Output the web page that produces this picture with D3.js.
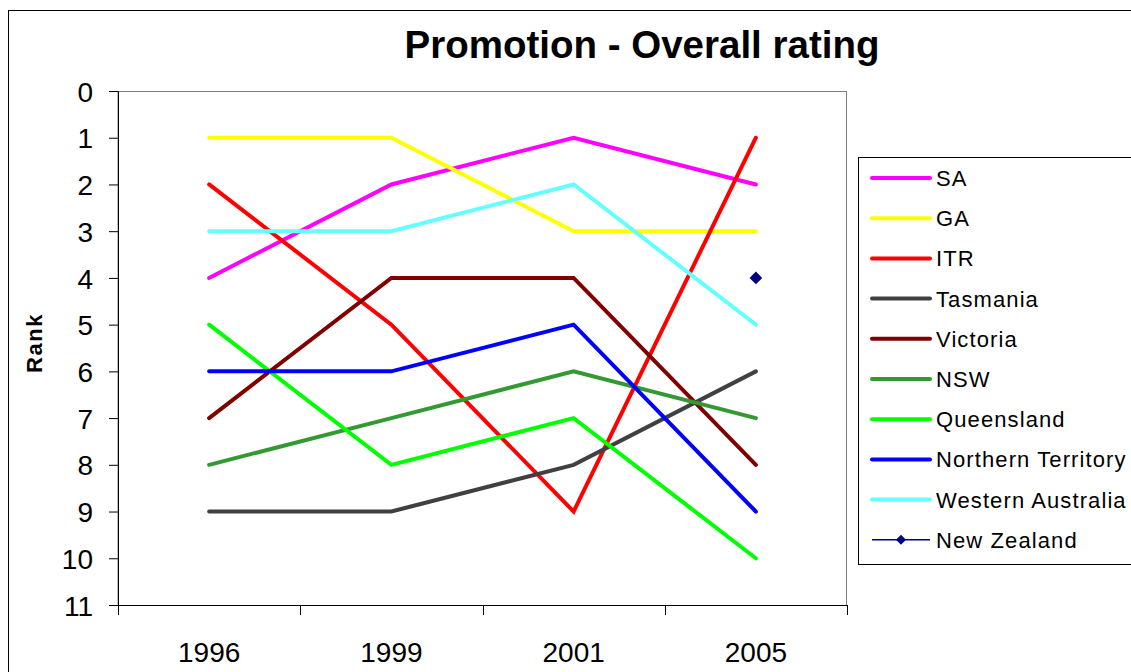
<!DOCTYPE html>
<html>
<head>
<meta charset="utf-8">
<script src="https://cdn.jsdelivr.net/npm/d3@7"></script>
<style>
  body { margin: 0; background: #fff; }
  svg { display: block; font-family: "Liberation Sans", Arial, sans-serif; }
</style>
</head>
<body>
<div id="chart"></div>
<script>
const years = ["1996", "1999", "2001", "2005"];
const seriesNames = ["SA", "GA", "ITR", "Tasmania", "Victoria", "NSW", "Queensland", "Northern Territory", "Western Australia", "New Zealand"];
const seriesColors = ["#ff00ff", "#ffff00", "#ff0000", "#404040", "#800000", "#339933", "#00ff00", "#0000ff", "#66ffff", "#000080"];
const sa = [4, 2, 1, 2];
const ga = [1, 1, 3, 3];
const itr = [2, 5, 9, 1];
const tasmania = [9, 9, 8, 6];
const victoria = [7, 4, 4, 8];
const nsw = [8, 7, 6, 7];
const queensland = [5, 8, 7, 10];
const northernTerritory = [6, 6, 5, 9];
const westernAustralia = [3, 3, 2, 5];
const newZealand = [null, null, null, 4];
const rankTicks = [0, 1, 2, 3, 4, 5, 6, 7, 8, 9, 10, 11];

const seriesValues = [sa, ga, itr, tasmania, victoria, nsw, queensland, northernTerritory, westernAustralia, newZealand];
const series = seriesNames.map((name, i) => ({
  name,
  color: seriesColors[i],
  values: seriesValues[i],
  marker: name === "New Zealand",
}));

const W = 1131, H = 672;
const plot = { left: 118, top: 91, right: 847, bottom: 605 };

const svg = d3.select("#chart").append("svg").attr("width", W).attr("height", H);

// outer chart frame
svg.append("rect")
  .attr("x", 8.5).attr("y", 10.5)
  .attr("width", W + 20).attr("height", H + 20)
  .attr("fill", "#fff").attr("stroke", "#000").attr("stroke-width", 1);

const x = d3.scaleBand().domain(years).range([plot.left, plot.right]);
const y = d3.scaleLinear().domain([0, 11]).range([plot.top, plot.bottom]);

// plot area border (gray top/right)
svg.append("rect")
  .attr("x", plot.left).attr("y", plot.top + 0.5)
  .attr("width", plot.right - plot.left - 0.5).attr("height", plot.bottom - plot.top)
  .attr("fill", "none").attr("stroke", "#808080").attr("stroke-width", 1);

// y axis
const yAxis = svg.append("g")
  .attr("transform", `translate(${plot.left},0)`)
  .call(d3.axisLeft(y).tickValues(rankTicks).tickFormat(d3.format("d")).tickSize(9).tickPadding(16));
yAxis.select(".domain").attr("stroke", "#000");
yAxis.selectAll(".tick line").attr("stroke", "#000");
yAxis.selectAll(".tick text").attr("font-size", 28).attr("fill", "#000").attr("dy", "0.36em");

// x axis, ticks between categories
const xAxis = svg.append("g")
  .attr("transform", `translate(0,${plot.bottom})`)
  .call(d3.axisBottom(x).tickSize(0).tickPadding(37));
xAxis.select(".domain").attr("stroke", "#000");
xAxis.selectAll(".tick text").attr("font-size", 28).attr("fill", "#000");
const bounds = years.map(d => x(d)).concat([plot.right]);
xAxis.selectAll(".sep").data(bounds).enter().append("line")
  .attr("class", "sep")
  .attr("x1", d => Math.round(d) + 0.5).attr("x2", d => Math.round(d) + 0.5)
  .attr("y1", 0).attr("y2", 10)
  .attr("stroke", "#000");

// title
svg.append("text")
  .attr("x", 642).attr("y", 58)
  .attr("text-anchor", "middle")
  .attr("font-size", 38.5).attr("font-weight", "bold")
  .text("Promotion - Overall rating");

// y axis title
svg.append("text")
  .attr("transform", "translate(42,343) rotate(-90)")
  .attr("text-anchor", "middle")
  .attr("font-size", 22).attr("font-weight", "bold")
  .attr("letter-spacing", 1.5)
  .text("Rank");

// lines
const line = d3.line()
  .defined(d => d.v != null)
  .x(d => x(d.year) + x.bandwidth() / 2)
  .y(d => y(d.v));

const diamond = size => d3.symbol(d3.symbolSquare, size);

const g = svg.append("g");
series.forEach(s => {
  const pts = years.map((year, i) => ({ year, v: s.values[i] }));
  if (s.marker) {
    g.selectAll(null).data(pts.filter(p => p.v != null)).enter().append("path")
      .attr("d", diamond(80))
      .attr("transform", p => `translate(${x(p.year) + x.bandwidth() / 2},${y(p.v)}) rotate(45)`)
      .attr("fill", s.color);
  } else {
    g.append("path")
      .datum(pts)
      .attr("d", line)
      .attr("fill", "none")
      .attr("stroke", s.color)
      .attr("stroke-width", 4)
      .attr("stroke-linecap", "round")
      .attr("stroke-linejoin", "miter");
  }
});

// legend
const legend = svg.append("g");
legend.append("rect")
  .attr("x", 858.5).attr("y", 157.5)
  .attr("width", 290).attr("height", 407)
  .attr("fill", "#fff").attr("stroke", "#000").attr("stroke-width", 1);

const items = legend.selectAll(".item").data(series).enter().append("g")
  .attr("class", "item")
  .attr("transform", (d, i) => `translate(0,${178 + i * 40.2})`);

items.filter(d => !d.marker).append("line")
  .attr("x1", 872).attr("x2", 930)
  .attr("stroke", d => d.color).attr("stroke-width", 4).attr("stroke-linecap", "round");
items.filter(d => d.marker).append("line")
  .attr("x1", 872).attr("x2", 930)
  .attr("stroke", d => d.color).attr("stroke-width", 1.5);
items.filter(d => d.marker).append("path")
  .attr("d", diamond(50))
  .attr("transform", "translate(901,0) rotate(45)")
  .attr("fill", d => d.color);

items.append("text")
  .attr("x", 936).attr("dy", "0.36em")
  .attr("font-size", 22)
  .attr("letter-spacing", 1.1)
  .text(d => d.name);
</script>
</body>
</html>
